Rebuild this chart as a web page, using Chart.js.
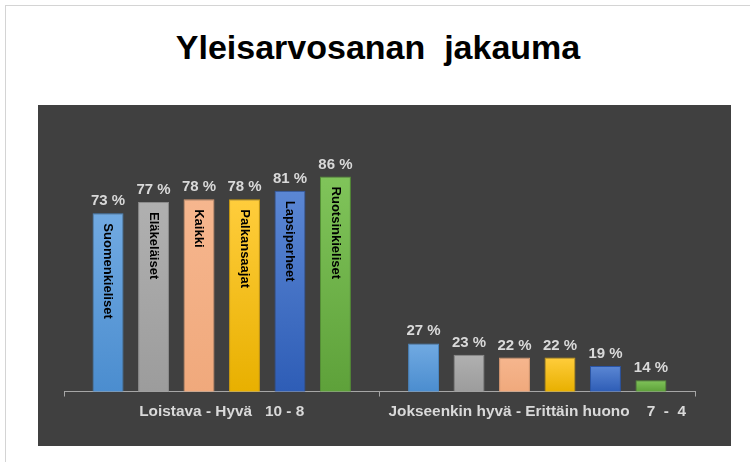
<!DOCTYPE html>
<html>
<head>
<meta charset="utf-8">
<script src="https://cdn.jsdelivr.net/npm/chart.js@4.4.0/dist/chart.umd.min.js"></script>
<style>
  html, body { margin: 0; padding: 0; background: #fff; }
  body { width: 750px; height: 462px; position: relative; overflow: hidden; font-family: "Liberation Sans", Arial, sans-serif; }
  #frame { position: absolute; left: 5px; top: 5px; width: 760px; height: 470px; border: 1px solid #d4d4d4; }
  #title { position: absolute; left: 0; width: 756px; top: 27px; line-height: 40px; text-align: center; font-size: 34px; font-weight: bold; color: #000; white-space: pre; }
  #panel { position: absolute; left: 38px; top: 105px; width: 693px; height: 341px; background: #404040; }
</style>
</head>
<body>
<div id="frame"></div>
<div id="title">Yleisarvosanan  jakauma</div>
<div id="panel"><canvas id="myChart" width="693" height="341"></canvas></div>
<script>
// categories on the x axis
var categories = ["Loistava - Hyvä   10 - 8", "Jokseenkin hyvä - Erittäin huono    7  -  4"];
// one series per group
var groups = ["Suomenkieliset", "Eläkeläiset", "Kaikki", "Palkansaajat", "Lapsiperheet", "Ruotsinkieliset"];
var suomenkieliset = [73, 27];
var elakelaiset = [77, 23];
var kaikki = [78, 22];
var palkansaajat = [78, 22];
var lapsiperheet = [81, 19];
var ruotsinkieliset = [86, 14];
var values = [suomenkieliset, elakelaiset, kaikki, palkansaajat, lapsiperheet, ruotsinkieliset];

// top colour, bottom colour, border
var colors = [
    ["#71aae2", "#4b8dcf", "#4a86c0"],
    ["#b0b0b0", "#9c9c9c", "#8c8c8c"],
    ["#f6b68e", "#f0a97c", "#d99a72"],
    ["#ffcd3c", "#e8b000", "#c99a10"],
    ["#5b87d4", "#2e5db6", "#2a54a4"],
    ["#80c45a", "#5ea13a", "#548f35"]
];

var Y_MIN = 10;

function barGradient(i) {
    return function(ctx) {
        var chart = ctx.chart;
        if (!chart.chartArea || ctx.raw === undefined) return colors[i][1];
        var y = chart.scales.y;
        var top = y.getPixelForValue(ctx.raw);
        var bottom = y.getPixelForValue(Y_MIN);
        var g = chart.ctx.createLinearGradient(0, top, 0, bottom);
        g.addColorStop(0, colors[i][0]);
        g.addColorStop(1, colors[i][1]);
        return g;
    };
}

var datasets = groups.map(function(name, i) {
    return {
        label: name,
        data: values[i],
        backgroundColor: barGradient(i),
        borderColor: colors[i][2],
        borderWidth: 1,
        borderSkipped: "bottom",
        categoryPercentage: 0.865,
        barPercentage: 0.68
    };
});

// values above bars + names inside the first group's bars
var barLabels = {
    id: "barLabels",
    afterDatasetsDraw: function(chart) {
        var c = chart.ctx;
        chart.data.datasets.forEach(function(ds, i) {
            var meta = chart.getDatasetMeta(i);
            meta.data.forEach(function(bar, j) {
                c.save();
                c.fillStyle = "#d9d9d9";
                c.font = "bold 15px 'Liberation Sans', Arial, sans-serif";
                c.textAlign = "center";
                c.textBaseline = "alphabetic";
                c.fillText(ds.data[j] + " %", bar.x, bar.y - 8);
                if (j === 0) {
                    c.translate(bar.x, bar.y + 10);
                    c.rotate(Math.PI / 2);
                    c.fillStyle = "#000";
                    c.font = "bold 13px 'Liberation Sans', Arial, sans-serif";
                    c.textAlign = "left";
                    c.textBaseline = "middle";
                    c.fillText(ds.label, 0, 0);
                }
                c.restore();
            });
        });
    }
};

var myChart = document.getElementById("myChart").getContext("2d");
var barChart = new Chart(myChart, {
    type: "bar",
    data: { labels: categories, datasets: datasets },
    options: {
        responsive: false,
        animation: false,
        events: [],
        layout: { padding: { left: 26, right: 36, top: 32, bottom: 19 } },
        plugins: { legend: { display: false }, tooltip: { enabled: false } },
        scales: {
            x: {
                grid: { display: true, drawOnChartArea: false, drawTicks: true, tickLength: 5, color: "#a6a6a6", offset: true },
                border: { display: true, color: "#a6a6a6", width: 1 },
                ticks: { color: "#d9d9d9", padding: 6, font: { family: "'Liberation Sans', Arial, sans-serif", size: 15.4, weight: "bold" } }
            },
            y: { display: false, min: Y_MIN, max: 100 }
        }
    },
    plugins: [barLabels]
});
</script>
</body>
</html>
